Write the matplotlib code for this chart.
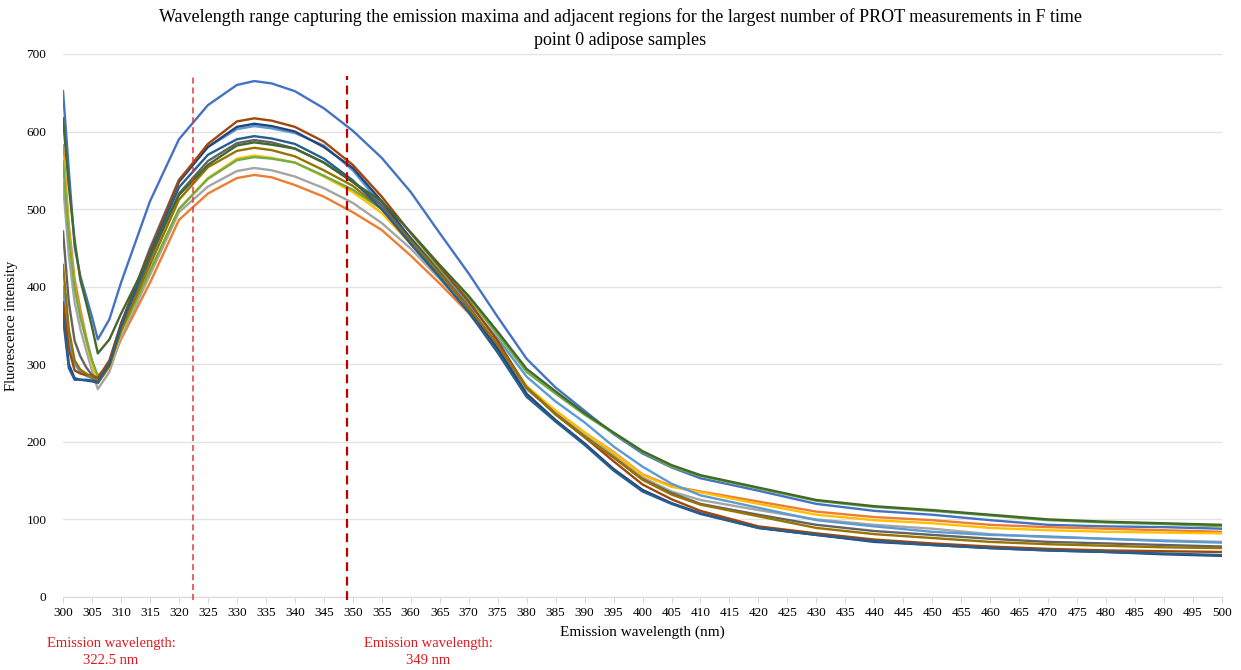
import matplotlib.pyplot as plt

plt.rcParams['font.family'] = ['Liberation Serif', 'DejaVu Serif']

# Data (wavelength in nm, fluorescence intensity)
wavelength = [300, 301, 302, 303, 304, 305, 306, 308, 310, 315, 320, 325, 330, 333, 336, 340,
              345, 350, 355, 360, 365, 370, 375, 380, 385, 390, 395, 400, 405, 410, 420, 430,
              440, 450, 460, 470, 480, 490, 500]

s_blue = [652, 550, 451, 413, 387, 361, 332, 358, 405, 510, 590, 634, 660, 665, 662, 652,
          630, 601, 566, 522, 469, 417, 361, 307, 270, 240, 210, 185, 167, 153, 137, 120,
          111, 106, 99, 93, 91, 90, 88]
s_orange = [582, 480, 410, 370, 335, 303, 278, 296, 332, 405, 486, 520, 540, 544, 541, 531,
            516, 496, 473, 440, 404, 366, 320, 268, 240, 212, 187, 158, 143, 136, 123, 110,
            103, 99, 93, 90, 88, 86, 84]
s_gray = [533, 440, 380, 345, 318, 292, 268, 290, 335, 415, 496, 529, 549, 553, 550, 542,
          527, 508, 482, 449, 410, 369, 322, 268, 237, 210, 183, 154, 136, 125, 112, 100,
          93, 88, 81, 77, 75, 73, 71]
s_gold = [567, 470, 400, 362, 330, 300, 276, 296, 340, 420, 500, 540, 565, 569, 566, 560,
          542, 522, 495, 455, 414, 372, 325, 272, 240, 212, 186, 157, 142, 135, 120, 106,
          99, 95, 89, 86, 84, 83, 82]
s_lightblue = [400, 330, 300, 290, 285, 282, 278, 302, 350, 450, 538, 580, 603, 607, 604, 598,
               582, 550, 505, 462, 420, 378, 333, 284, 252, 225, 194, 168, 146, 131, 115, 99,
               91, 84, 80, 78, 75, 72, 70]
s_green = [561, 465, 398, 360, 332, 305, 285, 300, 342, 420, 500, 539, 563, 567, 565, 560,
           543, 525, 500, 463, 422, 385, 338, 290, 262, 235, 211, 187, 168, 156, 140, 124,
           116, 111, 105, 99, 96, 94, 91]
s_darkblue = [368, 300, 282, 280, 279, 278, 276, 302, 352, 447, 535, 580, 606, 610, 607, 600,
              580, 553, 510, 462, 418, 372, 320, 262, 228, 198, 165, 138, 121, 108, 89, 80,
              71, 67, 63, 60, 58, 55, 53]
s_brown = [380, 320, 292, 288, 286, 286, 282, 305, 352, 447, 537, 584, 613, 617, 614, 606,
           587, 557, 516, 469, 426, 381, 330, 270, 236, 206, 175, 145, 126, 111, 91, 82,
           74, 69, 65, 62, 60, 59, 58]
s_darkgray = [471, 380, 330, 310, 296, 286, 276, 298, 345, 435, 520, 562, 585, 589, 586, 578,
              560, 535, 505, 460, 418, 374, 325, 270, 236, 207, 180, 152, 134, 120, 106, 93,
              85, 80, 75, 71, 69, 67, 65]
s_darkgold = [428, 345, 305, 293, 288, 283, 276, 298, 344, 428, 512, 554, 575, 579, 576, 568,
              550, 530, 500, 458, 416, 373, 325, 270, 235, 206, 180, 151, 132, 119, 104, 89,
              81, 76, 71, 68, 66, 64, 63]
s_steelblue = [360, 295, 280, 280, 280, 279, 277, 300, 349, 442, 528, 570, 590, 594, 591, 584,
               565, 537, 500, 455, 412, 367, 315, 258, 226, 196, 163, 136, 120, 107, 89, 80,
               72, 67, 63, 60, 58, 56, 54]
s_darkgreen = [617, 529, 460, 408, 379, 348, 314, 332, 365, 440, 518, 557, 582, 586, 583, 578,
               560, 535, 510, 470, 428, 388, 342, 294, 265, 237, 212, 188, 170, 157, 141, 125,
               117, 112, 106, 100, 97, 95, 93]

series = [s_blue, s_orange, s_gray, s_gold, s_lightblue, s_green,
          s_darkblue, s_brown, s_darkgray, s_darkgold, s_steelblue, s_darkgreen]
colors = ['#4472C4', '#ED7D31', '#A5A5A5', '#FFC000', '#5B9BD5', '#70AD47',
          '#264478', '#9E480E', '#636363', '#997300', '#255E91', '#43682B']

marker_lines = [322.5, 349]
marker_labels = ['Emission wavelength:\n322.5 nm', 'Emission wavelength:\n349 nm']

fig = plt.figure(figsize=(12.41, 6.70), dpi=100)
ax = fig.add_axes([0.0508, 0.109, 0.9339, 0.8105])

for vals, c in zip(series, colors):
    ax.plot(wavelength, vals, color=c, linewidth=1.7, solid_joinstyle='round', zorder=3)

# dashed marker lines
ax.plot([marker_lines[0]] * 2, [-4, 672], color='#E03A3E', linestyle=(0, (4, 2.5)),
        linewidth=1.1, zorder=4, clip_on=False)
ax.plot([marker_lines[1]] * 2, [-4, 672], color='#C00000', linestyle=(0, (4, 2.5)),
        linewidth=1.6, zorder=4, clip_on=False)

ax.set_xlim(300, 500)
ax.set_ylim(0, 700)
ax.set_xticks(range(300, 501, 5))
ax.set_yticks(range(0, 701, 100))
ax.tick_params(axis='x', length=4, color='#D9D9D9', labelsize=9.5, pad=3)
ax.tick_params(axis='y', length=0, labelsize=9.5, pad=12)
ax.grid(axis='y', color='#E3E3E3', linewidth=1.0, zorder=0)
for sp in ['top', 'right', 'left']:
    ax.spines[sp].set_visible(False)
ax.spines['bottom'].set_color('#D9D9D9')

ax.set_xlabel('Emission wavelength (nm)', fontsize=11, labelpad=5)
ax.set_ylabel('Fluorescence intensity', fontsize=10.5)
ax.yaxis.set_label_coords(-0.0388, 0.5)

fig.suptitle('Wavelength range capturing the emission maxima and adjacent regions for the largest number of PROT measurements in F time\npoint 0 adipose samples',
             fontsize=13, y=0.988, va='top', linespacing=1.45)

fig.text(111 / 1241, 1 - 652 / 670, marker_labels[0], color='#E0191E', fontsize=10.5,
         ha='center', va='center', linespacing=1.3)
fig.text(428 / 1241, 1 - 652 / 670, marker_labels[1], color='#E0191E', fontsize=10.5,
         ha='center', va='center', linespacing=1.3)

fig.savefig('out.png', dpi=100, facecolor='white')
